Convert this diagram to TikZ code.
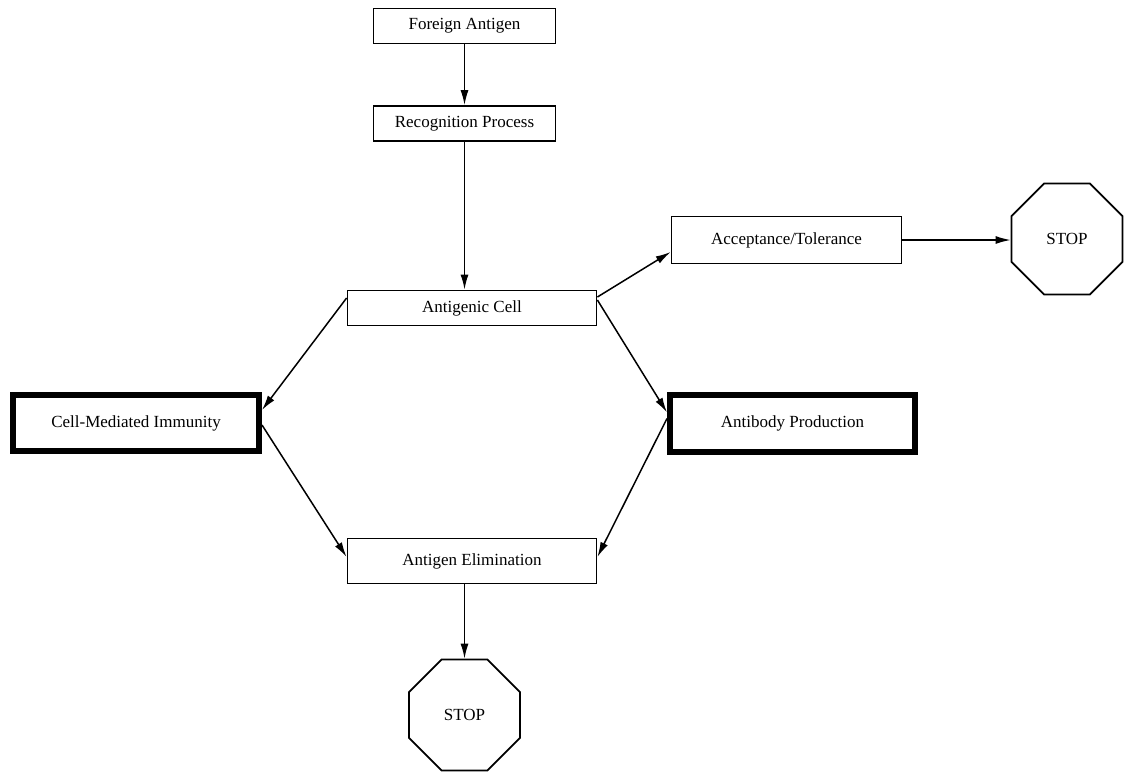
\documentclass[tikz,border=0pt]{standalone}
\usepackage{fontspec}
\setmainfont{Liberation Serif}
\usetikzlibrary{shapes.geometric,arrows.meta}

\tikzset{
  box/.style={draw, line width=1.8pt, inner sep=0pt, font=\fontsize{17}{20}\selectfont},
  thickbox/.style={box, line width=6pt},
  stopsign/.style={draw, line width=1.8pt, regular polygon, regular polygon sides=8, minimum size=120pt, inner sep=0pt, font=\fontsize{17}{20}\selectfont},
  flow/.style={-{Latex[length=15pt,width=8pt]}, line width=1.5pt}
}

\begin{document}
\begin{tikzpicture}[x=1pt,y=-1pt]
\useasboundingbox (0,0) rectangle (1145,777);

% 主干上的方框
\node[box, minimum width=182pt, minimum height=35pt] (foreign) at (464.5,26) {Foreign Antigen};
\node[box, minimum width=182pt, minimum height=35pt] (recog) at (464.5,123.5) {Recognition Process};
\node[box, minimum width=249pt, minimum height=35pt] (antigenic) at (472,308) {Antigenic Cell};
\node[box, minimum width=230pt, minimum height=47pt] (accept) at (786.5,240) {Acceptance/Tolerance};
\node[box, minimum width=249pt, minimum height=45pt] (elim) at (472,561) {Antigen Elimination};

% 两个粗边框的方框
\node[thickbox, minimum width=246pt, minimum height=56pt] (cellmed) at (136,423) {Cell-Mediated Immunity};
\node[thickbox, minimum width=245pt, minimum height=57pt] (antibody) at (792.5,423.5) {Antibody Production};

% 两个 STOP 八边形
\node[stopsign] (stopright) at (1067,239) {STOP};
\node[stopsign] (stopbottom) at (464.5,715) {STOP};

% 竖直的箭头
\draw[flow] (foreign) -- (recog);
\draw[flow] (recog.south) -- (recog.south |- antigenic.north);
\draw[flow] (stopbottom.north |- elim.south) -- (stopbottom.north);
\draw[flow] (accept.east) -- (stopright.west |- accept.east);

% 斜向的箭头
\draw[flow] ([yshift=10pt]antigenic.west) -- ([yshift=13pt]cellmed.east);
\draw[flow] ([yshift=-2pt]cellmed.east) -- ([yshift=4pt]elim.west);
\draw[flow] ([yshift=8pt]antigenic.east) -- ([yshift=11pt]antibody.west);
\draw[flow] ([yshift=5pt]antibody.west) -- ([yshift=4pt]elim.east);
\draw[flow] ([yshift=11pt]antigenic.east) -- ([yshift=-12pt]accept.west);

\end{tikzpicture}
\end{document}
